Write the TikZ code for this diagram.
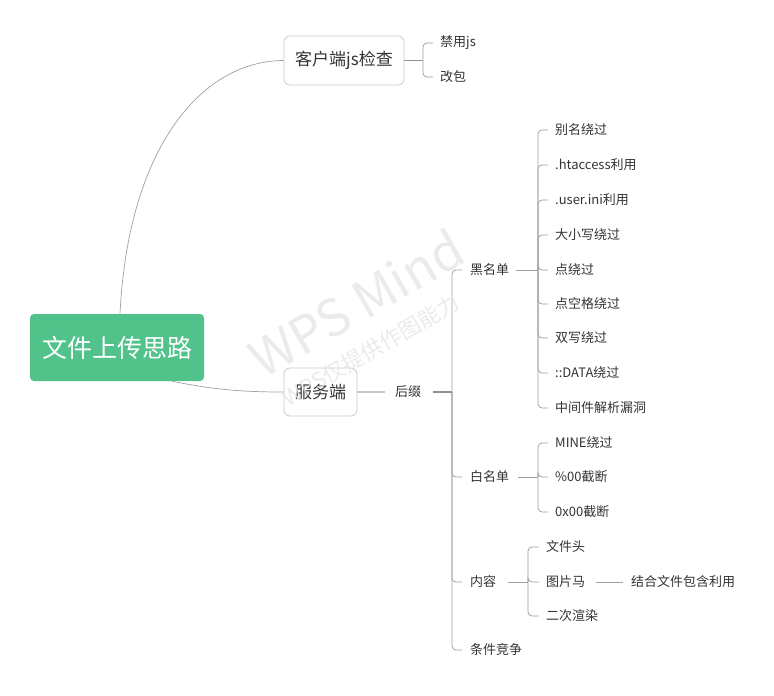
\documentclass[tikz,border=0pt]{standalone}
\usepackage{fontspec}
\setmainfont{Noto Sans CJK SC}
\usetikzlibrary{calc}
\definecolor{rootg}{HTML}{50C28A}
\definecolor{txt}{HTML}{333333}
\definecolor{boxline}{HTML}{C8C8C8}
\definecolor{conn}{HTML}{A0A0A0}
\definecolor{wmc}{HTML}{E4E4E4}
\begin{document}
\begin{tikzpicture}[x=1pt,y=-1pt,
  rootbox/.style={fill=rootg, rounded corners=4pt, minimum width=174pt, minimum height=67pt, inner sep=0pt, text=white, font=\fontsize{25}{27}\selectfont},
  subbox/.style={draw=boxline, line width=0.8pt, rounded corners=6pt, minimum height=49pt, inner sep=0pt, text=txt, font=\fontsize{17}{19}\selectfont},
  lbl/.style={anchor=west, inner sep=0pt, text=txt, font=\fontsize{13}{15}\selectfont},
  wmark/.style={rotate=30, text=wmc, text opacity=0.75, inner sep=0pt},
  curve/.style={draw=conn, line width=0.7pt},
  brk/.style={draw=conn, line width=0.8pt, rounded corners=4pt},
  stub/.style={draw=conn!90!black, line width=1.2pt},
  lite/.style={draw=boxline, line width=1.2pt}
]
\useasboundingbox (0,0) rectangle (774,696);

% main nodes
\node[rootbox] (root) at (117,347.5) {文件上传思路};
\node[subbox, minimum width=120pt] (client) at (344,60.5) {客户端js检查};
\node[subbox, minimum width=73pt, minimum height=48pt] (server) at (320.5,392) {服务端};

% root connectors
\draw[curve] ([xshift=3pt]root.north) .. controls (128,150) and (200,61) .. (client.west);
\draw[curve] ([xshift=55pt]root.south) .. controls (215,390) and (245,392) .. (server.west);

% client children
\node[lbl] (c1) at (440,43) {禁用js};
\node[lbl] (c2) at (440,77) {改包};
\coordinate (jc) at (423,60.5);
\draw[stub] (client.east) -- (jc);
\draw[brk] (jc) |- ([xshift=-7pt]c1.west);
\draw[brk] (jc) |- ([xshift=-7pt]c2.west);

% server -> suffix
\node[lbl] (hz) at (395,392) {后缀};
\draw[lite] (server.east) -- ([xshift=-10pt]hz.west);
\coordinate (js) at (452,392);
\draw[stub] ([xshift=12pt]hz.east) -- (js);

\node[lbl] (hm) at (470,270) {黑名单};
\node[lbl] (bm) at (470,477) {白名单};
\node[lbl] (nr) at (470,582) {内容};
\node[lbl] (tj) at (470,650) {条件竞争};
\foreach \n in {hm,bm,nr,tj} \draw[brk] (js) |- ([xshift=-8pt]\n.west);

% blacklist
\node[lbl] (h1) at (555,130) {别名绕过};
\node[lbl] (h2) at (555,165) {.htaccess利用};
\node[lbl] (h3) at (555,200) {.user.ini利用};
\node[lbl] (h4) at (555,235) {大小写绕过};
\node[lbl] (h5) at (555,270) {点绕过};
\node[lbl] (h6) at (555,304) {点空格绕过};
\node[lbl] (h7) at (555,338) {双写绕过};
\node[lbl] (h8) at (555,373) {::DATA绕过};
\node[lbl] (h9) at (555,408) {中间件解析漏洞};
\coordinate (jh) at (538,270);
\draw[brk] ([xshift=7pt]hm.east) -- (jh);
\foreach \n in {h1,h2,h3,h4,h5,h6,h7,h8,h9} \draw[brk] (jh) |- ([xshift=-7pt]\n.west);

% whitelist
\node[lbl] (b1) at (555,443) {MINE绕过};
\node[lbl] (b2) at (555,477) {\%00截断};
\node[lbl] (b3) at (555,512) {0x00截断};
\coordinate (jb) at (538,477);
\draw[brk] ([xshift=9pt]bm.east) -- (jb);
\foreach \n in {b1,b2,b3} \draw[brk] (jb) |- ([xshift=-7pt]\n.west);

% content
\node[lbl] (n1) at (546,547) {文件头};
\node[lbl] (n2) at (546,582) {图片马};
\node[lbl] (n3) at (546,616) {二次渲染};
\coordinate (jn) at (528,582);
\draw[brk] ([xshift=12pt]nr.east) -- (jn);
\foreach \n in {n1,n2,n3} \draw[brk] (jn) |- ([xshift=-7pt]\n.west);

\node[lbl] (n21) at (631,582) {结合文件包含利用};
\draw[brk] ([xshift=11pt]n2.east) -- ([xshift=-8pt]n21.west);

% watermark (on top, faint)
\node[wmark, font=\fontsize{51}{53}\selectfont] (wm1) at (356,303) {WPS Mind};
\node[wmark, font=\fontsize{22}{24}\selectfont] (wm2) at (371,350) {WPS仅提供作图能力};
\end{tikzpicture}
\end{document}
